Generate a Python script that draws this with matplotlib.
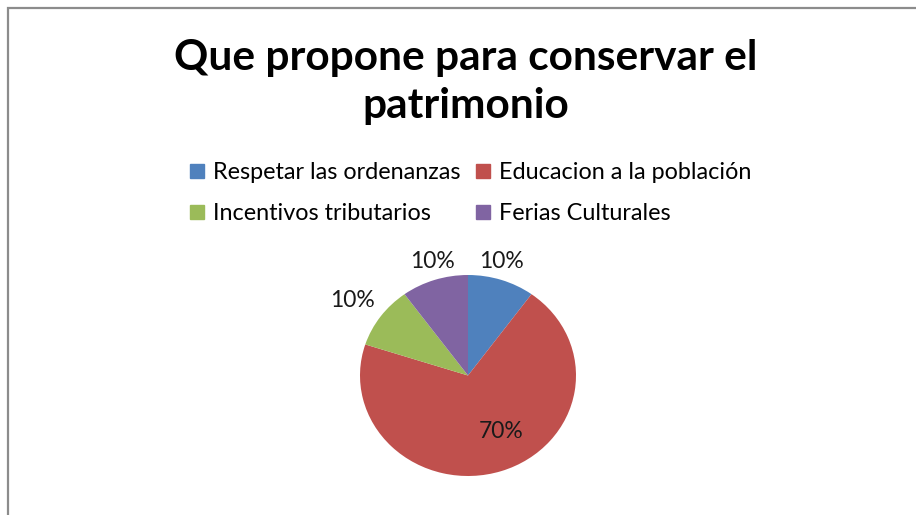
import matplotlib
matplotlib.use("Agg")
import matplotlib.pyplot as plt
from matplotlib.patches import Rectangle
from matplotlib.lines import Line2D

# data
categories = ["Respetar las ordenanzas", "Educacion a la población",
              "Incentivos tributarios", "Ferias Culturales"]
values = [10, 70, 10, 10]
colors = ["#4F81BD", "#C0504D", "#9BBB59", "#8064A2"]
label_pos = [(0.31, 1.13), (0.31, -0.56), (-1.065, 0.75), (-0.33, 1.13)]

plt.rcParams["font.family"] = ["Lato", "DejaVu Sans"]

W, H = 916, 515
fig = plt.figure(figsize=(W / 100, H / 100), dpi=100)

# chart border (cut at right and bottom like the screenshot)
fig.patches.append(Rectangle((8 / W, -0.1), 1.2, (H - 8) / H + 0.1,
                             transform=fig.transFigure, fill=False,
                             edgecolor="#8c8c8c", linewidth=1.6))

fig.text(466 / W, 1 - 82 / H, "Que propone para conservar el\npatrimonio",
         ha="center", va="center", fontsize=30.5, fontweight="bold",
         linespacing=1.3)

# pie area: slightly wider than tall, as in the original
ax = fig.add_axes([360 / W, 1 - 476 / H, 216 / W, 201 / H])
wedges, _ = ax.pie(values, colors=colors, startangle=90, counterclock=False,
                   radius=1)
ax.set_aspect("auto")
ax.set_xlim(-1, 1)
ax.set_ylim(-1, 1)
ax.axis("off")

total = sum(values)
for v, (x, y) in zip(values, label_pos):
    ax.text(x, y, f"{round(100 * v / total)}%", ha="center", va="center",
            fontsize=16.5, color="#1a1a1a", clip_on=False)

# legend filled row by row (matplotlib fills columns first)
order = [0, 2, 1, 3]
handles = [Line2D([], [], marker="s", linestyle="none", markersize=10,
                  markerfacecolor=colors[i], markeredgecolor=colors[i])
           for i in order]
fig.legend(handles, [categories[i] for i in order], ncol=2, loc="center",
           bbox_to_anchor=(470 / W, 1 - 193 / H), frameon=False,
           fontsize=16.8, handlelength=0.7, handletextpad=0.35,
           columnspacing=0.6, labelspacing=0.85, borderaxespad=0)

fig.savefig("out.png", dpi=100)
